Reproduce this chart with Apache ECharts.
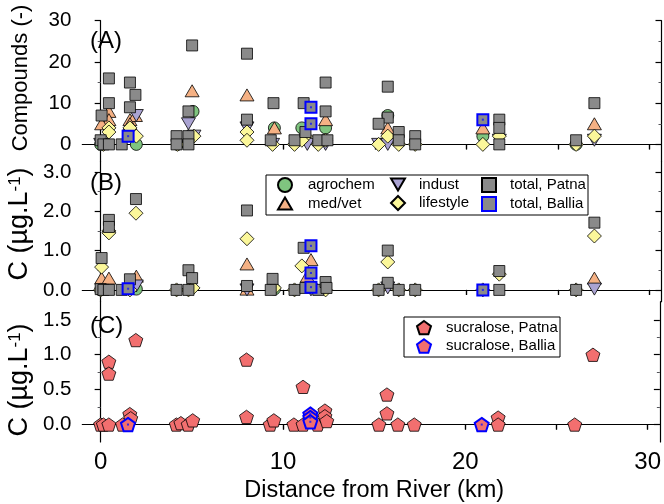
<!DOCTYPE html>
<html>
<head>
<meta charset="utf-8">
<script src="https://cdn.jsdelivr.net/npm/echarts@6/dist/echarts.min.js"></script>
<style>
  html, body { margin: 0; padding: 0; background: #fff; }
  #chart { width: 664px; height: 504px; }
</style>
</head>
<body>
<div id="chart"></div>
<script>
// ---- data: [distance km, value] ----
// (A) number of compounds
var agrochemA  = [[0.0,0],[1.95,0],[4.2,0],[5.05,8],[9.5,4],[11.0,4],[12.3,4],[15.7,7],[20.9,2],[26.0,0]];
var medvetA    = [[0.45,8],[0.45,6],[0.05,5],[1.6,6],[1.9,7],[1.6,5],[5.0,13],[8.0,12],[9.5,4],[12.3,6],[15.7,4],[20.9,4],[27.0,5]];
var industA    = [[0.0,0],[1.95,7],[4.8,5],[5.1,2],[8.0,4],[9.4,0],[11.3,0],[12.3,0],[15.2,0],[15.7,0],[21.8,1],[27.0,1]];
var lifestyleA = [[0.45,4],[0.45,3],[1.6,4],[1.95,2],[0.15,0],[4.2,0],[5.1,2],[8.0,3],[8.0,1],[9.4,0],[10.6,0],[11.2,2],[11.0,1],[11.9,0],
                  [12.3,1],[15.2,0],[15.7,2],[16.3,0],[17.2,0],[20.9,0],[21.8,2],[26.0,0],[27.0,2]];
var totalPatnaA  = [[0.0,1],[0.15,0],[0.45,0],[0.45,16],[0.45,10],[0.05,7],[1.15,0],[1.6,15],[1.9,12],[1.6,9],
                    [4.15,2],[4.15,0],[4.8,2],[4.8,0],[4.8,8],[5.0,24],[8.0,22],[8.0,6],[9.45,10],[9.3,1],
                    [10.6,1],[11.1,10],[11.2,3],[11.9,1],[12.3,15],[12.3,8],[12.4,1],
                    [15.7,14],[15.7,6.5],[15.2,5],[16.3,3],[16.3,1],[17.2,2],[17.2,0],
                    [21.8,6],[21.8,4],[21.8,0],[26.0,1],[27.0,10]];
var totalBalliaA = [[1.5,2],[11.5,9],[11.5,5],[20.9,6]];

// (B) concentration, ug/L
var agrochemB  = [[0.0,0],[1.95,0.02],[9.5,0.02]];
var medvetB    = [[0.05,0.3],[0.45,0.3],[1.95,0.35],[8.0,0.66],[8.0,0.02],[11.3,0.35],[11.5,0.77],[27.0,0.3]];
var industB    = [[1.95,0.1],[8.0,0],[11.5,0],[15.7,0.05],[27.0,0.02]];
var lifestyleB = [[0.45,1.5],[0.45,1.45],[0.05,0.58],[1.93,1.95],[8.0,1.3],[11.0,0.61],[15.7,0.71],[21.8,0.4],[27.0,1.37],
                  [0.0,0],[1.6,0],[4.15,0],[4.8,0],[5.05,0.05],[9.5,0.05],[10.6,0],[12.3,0],[15.2,0],[16.3,0],[17.2,0],[20.9,0],[26.0,0]];
var totalPatnaB  = [[0.45,1.78],[0.45,1.6],[0.05,0.81],[0.0,0.02],[0.15,0],[0.45,0],[1.15,0],[1.93,2.31],[1.6,0.27],
                    [4.15,0],[4.8,0],[4.8,0.5],[5.0,0.3],[8.0,2.02],[8.0,0.1],[9.4,0.28],[9.3,0],[10.6,0],
                    [11.1,1.07],[11.2,0.05],[11.9,0],[12.3,0.2],[12.35,0.05],[15.7,1.0],[15.7,0.18],[15.2,0],
                    [16.3,0],[17.2,0],[21.8,0.48],[21.8,0],[26.0,0],[27.0,1.71]];
var totalBalliaB = [[1.5,0.03],[11.5,1.12],[11.5,0.43],[11.5,0.07],[20.9,0]];

// (C) sucralose, ug/L
var sucraloseP = [[0.0,0],[0.15,0],[0.45,0],[0.45,0.9],[0.45,0.73],[1.2,0],[1.6,0.15],[1.65,0.09],[1.93,1.21],
                  [4.15,0],[4.4,0.02],[4.8,0],[5.05,0.06],[8.0,0.93],[8.0,0.11],[9.3,0],[9.5,0.06],[10.6,0],
                  [11.1,0.54],[11.1,0],[11.9,0],[12.3,0.2],[12.3,0.12],[12.4,0.05],[15.26,0],[15.7,0.43],
                  [15.7,0.16],[16.3,0],[17.2,0],[21.8,0.1],[21.8,0],[26.0,0],[27.0,1.0]];
var sucraloseB = [[1.5,0],[11.5,0.15],[11.5,0.1],[11.5,0.04],[20.9,0]];

// ticks
var xTicks = [0, 5, 10, 15, 20, 25, 30];
var xLabels = [0, 10, 20, 30];
var yTicksA = [0, 10, 20, 30],      yMinorA = [5, 15, 25];
var yTicksB = [0, 1, 2, 3],         yMinorB = [0.5, 1.5, 2.5];
var yTicksC = [0, 0.5, 1, 1.5],     yMinorC = [0.25, 0.75, 1.25];

var FONT = 'Liberation Sans, Arial, sans-serif';
var chart = echarts.init(document.getElementById('chart'));

var SYM = {
  circle: 'circle',
  up: 'path://M7,0 L14,12 L0,12 Z',
  down: 'path://M0,0 L14,0 L7,12 Z',
  diamond: 'path://M0,-1 L1,0 L0,1 L-1,0 Z',
  square: 'path://M0,0 L1,0 L1,1 L0,1 Z',
  pent: 'path://M0,-1 L0.951,-0.309 L0.588,0.809 L-0.588,0.809 L-0.951,-0.309 Z'
};

var grids = [
  { left: 82.4, right: 2.5, top: 20.7, height: 141 },
  { left: 82.4, right: 2.5, top: 161.7, height: 140 },
  { left: 82.4, right: 2.5, top: 301.7, height: 141 }
];

var xAxes = [], yAxes = [];
var yDefs = [
  { min: -4.2, max: 30, ticks: yTicksA, minor: yMinorA, fmt: function (v) { return v; } },
  { min: -0.3, max: 3.26, ticks: yTicksB, minor: yMinorB, fmt: function (v) { return v.toFixed(1); } },
  { min: -0.25, max: 1.76, ticks: yTicksC, minor: yMinorC, fmt: function (v) { return v.toFixed(1); } }
];
var line = { show: true, lineStyle: { color: '#000', width: 1.2 } };

for (var g = 0; g < 3; g++) {
  // bottom x axis (index 2g), top x axis (2g+1)
  xAxes.push({
    type: 'value', gridIndex: g, position: 'bottom', min: -1, max: 30.67,
    axisLine: line, splitLine: { show: false },
    axisTick: { show: true, inside: false, length: 5, customValues: xTicks, lineStyle: { width: 1.2 } },
    axisLabel: g === 2 ? { show: true, customValues: xLabels, color: '#000', fontSize: 24, fontFamily: FONT, margin: 8 } : { show: false },
    name: g === 2 ? 'Distance from River (km)' : '',
    nameLocation: 'middle', nameGap: 37,
    nameTextStyle: { color: '#000', fontSize: 23.5, fontFamily: FONT, padding: [0, 0, 0, 6] }
  });
  xAxes.push({
    type: 'value', gridIndex: g, position: 'top', min: -1, max: 30.67,
    axisLine: line, splitLine: { show: false },
    axisTick: { show: true, inside: true, length: 5, customValues: xTicks, lineStyle: { width: 1.2 } },
    axisLabel: { show: false }
  });
  var d = yDefs[g];
  // left major (4g), left minor (4g+1), right major (4g+2), right minor (4g+3)
  yAxes.push({
    type: 'value', gridIndex: g, position: 'left', min: d.min, max: d.max,
    axisLine: line, splitLine: { show: false },
    axisTick: { show: true, inside: false, length: 6, customValues: d.ticks, lineStyle: { width: 1.2 } },
    axisLabel: { show: true, customValues: d.ticks, formatter: d.fmt, color: '#000', fontSize: 20.5, fontFamily: FONT, margin: 11 }
  });
  yAxes.push({
    type: 'value', gridIndex: g, position: 'left', min: d.min, max: d.max,
    axisLine: { show: false }, splitLine: { show: false },
    axisTick: { show: true, inside: false, length: 3, customValues: d.minor, lineStyle: { width: 1 } },
    axisLabel: { show: false }
  });
  yAxes.push({
    type: 'value', gridIndex: g, position: 'right', min: d.min, max: d.max,
    axisLine: line, splitLine: { show: false },
    axisTick: { show: true, inside: true, length: 6, customValues: d.ticks, lineStyle: { width: 1.2 } },
    axisLabel: { show: false }
  });
  yAxes.push({
    type: 'value', gridIndex: g, position: 'right', min: d.min, max: d.max,
    axisLine: { show: false }, splitLine: { show: false },
    axisTick: { show: true, inside: true, length: 3, customValues: d.minor, lineStyle: { width: 1 } },
    axisLabel: { show: false }
  });
}

function sc(name, data, g, symbol, size, color, border, bw) {
  return {
    type: 'scatter', name: name, data: data,
    xAxisIndex: 2 * g, yAxisIndex: 4 * g,
    symbol: symbol, symbolSize: size, symbolKeepAspect: true,
    itemStyle: { color: color, borderColor: border || '#000', borderWidth: bw || 0.8, opacity: 1 },
    emphasis: { disabled: true }
  };
}
function dots(data, g) {
  return {
    type: 'scatter', name: 'dot', data: data, silent: true,
    xAxisIndex: 2 * g, yAxisIndex: 4 * g,
    symbol: 'rect', symbolSize: 2, itemStyle: { color: '#1010ff' }
  };
}

var C = { agro: '#7fc47f', med: '#f5b184', ind: '#aaa3d2', life: '#fbf79a', tot: '#8a8a8a', suc: '#f26f6f' };

var series = [
  sc('agrochem', agrochemA, 0, SYM.circle, 12, C.agro),
  sc('med/vet', medvetA, 0, SYM.up, 14, C.med),
  sc('indust', industA, 0, SYM.down, 14, C.ind),
  sc('lifestyle', lifestyleA, 0, SYM.diamond, 14, C.life),
  sc('total, Patna', totalPatnaA, 0, SYM.square, 11, C.tot),
  sc('total, Ballia', totalBalliaA, 0, SYM.square, 11, C.tot, '#0000ff', 2),
  dots(totalBalliaA, 0),
  sc('agrochem', agrochemB, 1, SYM.circle, 12, C.agro),
  sc('med/vet', medvetB, 1, SYM.up, 14, C.med),
  sc('indust', industB, 1, SYM.down, 14, C.ind),
  sc('lifestyle', lifestyleB, 1, SYM.diamond, 14, C.life),
  sc('total, Patna', totalPatnaB, 1, SYM.square, 11, C.tot),
  sc('total, Ballia', totalBalliaB, 1, SYM.square, 11, C.tot, '#0000ff', 2),
  dots(totalBalliaB, 1),
  sc('sucralose, Patna', sucraloseP, 2, SYM.pent, 14, C.suc),
  sc('sucralose, Ballia', sucraloseB, 2, SYM.pent, 14, C.suc, '#0000ff', 2),
  dots(sucraloseB, 2)
];

// legend: icon centre x, text start x, first-row centre y
function leg(names, cx, tx, cy) {
  var s = 14;
  return {
    data: names, orient: 'vertical', left: cx - s / 2, top: cy - 9, padding: 0, z: 20,
    itemWidth: s, itemHeight: s, itemGap: 3, selectedMode: false,
    textStyle: { color: '#000', fontSize: 15, fontFamily: FONT, padding: [0, 0, 0, tx - (cx + s / 2 + 5)] }
  };
}

var ylabel = { font: '27px ' + FONT, fill: '#000', align: 'center', verticalAlign: 'middle',
               rich: { sup: { fontSize: 17, fontFamily: FONT, verticalAlign: 'top', lineHeight: 27 } } };

var option = {
  animation: false,
  backgroundColor: '#fff',
  grid: grids,
  xAxis: xAxes,
  yAxis: yAxes,
  series: series,
  legend: [
    leg(['agrochem', 'med/vet'], 284, 307, 186),
    leg(['indust', 'lifestyle'], 397, 418, 186),
    leg(['total, Patna', 'total, Ballia'], 488, 509, 186),
    leg(['sucralose, Patna', 'sucralose, Ballia'], 423, 445, 329)
  ],
  graphic: [
    { type: 'rect', shape: { x: 266, y: 175, width: 322, height: 40 }, style: { fill: '#fff', stroke: '#000', lineWidth: 1 }, z: 10 },
    { type: 'rect', shape: { x: 404, y: 317, width: 156, height: 40 }, style: { fill: '#fff', stroke: '#000', lineWidth: 1 }, z: 10 },
    { type: 'text', left: 90, top: 29, style: { text: '(A)', font: '24px ' + FONT, fill: '#000' } },
    { type: 'text', left: 90, top: 171, style: { text: '(B)', font: '24px ' + FONT, fill: '#000' } },
    { type: 'text', left: 90, top: 314, style: { text: '(C)', font: '24px ' + FONT, fill: '#000' } },
    { type: 'text', x: 21, y: 78, rotation: Math.PI / 2,
      style: { text: 'Compounds (-)', font: '22px ' + FONT, fill: '#000', align: 'center', verticalAlign: 'middle' } },
    { type: 'text', x: 20, y: 224, rotation: Math.PI / 2, style: Object.assign({ text: 'C (µg.L{sup|-1})' }, ylabel) },
    { type: 'text', x: 20, y: 380, rotation: Math.PI / 2, style: Object.assign({ text: 'C (µg.L{sup|-1})' }, ylabel) }
  ]
};
chart.setOption(option);
</script>
</body>
</html>
